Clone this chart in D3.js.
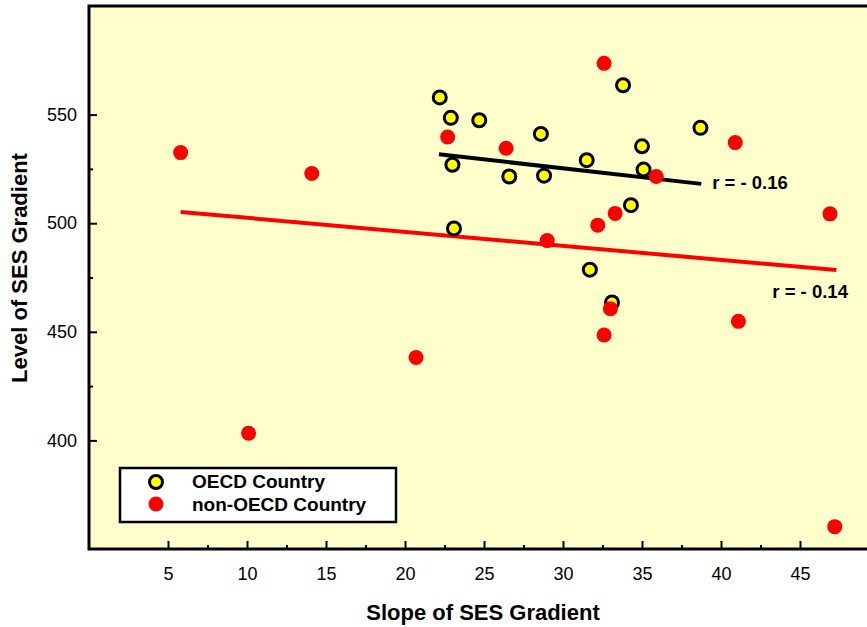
<!DOCTYPE html>
<meta charset="utf-8" />
<style>
  body {
    margin: 0px;
    padding: 0px;
    background: #fff;
  }
  svg {
    display: block;
    font-family: Arial, "Liberation Sans", sans-serif;
  }
  .axis text {
    font-size: 18px;
    fill: #000;
  }
  .axis line {
    stroke: #000;
  }
  .bold {
    font-weight: bold;
    fill: #000;
  }
</style>

<svg width="867" height="627"></svg>

<script src="https://cdn.jsdelivr.net/npm/d3@7"></script>
<script>
  // OECD countries: slope (x) and level (y) of SES gradient
  const oecdSlope = [22.2, 22.9, 24.7, 28.6, 23.0, 26.6, 28.8, 33.8, 38.7, 35.0, 31.5, 35.1, 23.1, 34.3, 31.7, 33.1];
  const oecdLevel = [557.9, 548.5, 547.4, 541.1, 526.9, 521.5, 521.9, 563.5, 543.9, 535.4, 529.0, 524.7, 497.6, 508.3, 478.6, 463.5];

  // non-OECD countries
  const nonSlope = [5.8, 14.1, 20.7, 10.1, 47.2, 32.6, 22.7, 26.4, 35.9, 40.9, 46.9, 33.3, 32.2, 29.0, 33.0, 32.6, 41.1];
  const nonLevel = [532.5, 522.9, 438.2, 403.3, 360.3, 573.6, 539.7, 534.5, 521.5, 537.1, 504.3, 504.5, 499.1, 492.0, 460.6, 448.5, 454.8];

  // fitted lines (end points) and their correlations
  const oecdFit = [[22.15, 531.7], [38.75, 518.1]];
  const nonFit = [[5.8, 505.2], [47.3, 478.4]];
  const oecdR = "r = - 0.16";
  const nonR = "r = - 0.14";

  const xMajor = [5, 10, 15, 20, 25, 30, 35, 40, 45];
  const xMinor = [7.5, 12.5, 17.5, 22.5, 27.5, 32.5, 37.5, 42.5];
  const yMajor = [400, 450, 500, 550];
  const yMinor = [425, 475, 525];

  const svg = d3.select("svg");

  const plotLeft = 89, plotTop = 6, plotBottom = 549;
  const x = d3.scaleLinear().domain([0, 50]).range([plotLeft, plotLeft + 790]);
  const y = d3.scaleLinear().domain([350, 600]).range([plotBottom, plotTop]);

  // plot background + frame (right side runs off the picture)
  svg.append("rect")
    .attr("x", plotLeft).attr("y", plotTop)
    .attr("width", 800).attr("height", plotBottom - plotTop)
    .attr("fill", "#ffffcc")
    .attr("stroke", "#000")
    .attr("stroke-width", 3);

  // axes, ticks pointing inward
  const gx = svg.append("g").attr("class", "axis")
    .attr("transform", "translate(0," + plotBottom + ")")
    .call(d3.axisBottom(x).tickValues(xMajor).tickSize(-8).tickPadding(18).tickFormat(d3.format("d")));
  const gxm = svg.append("g").attr("class", "axis")
    .attr("transform", "translate(0," + plotBottom + ")")
    .call(d3.axisBottom(x).tickValues(xMinor).tickSize(-4).tickFormat(""));

  const gy = svg.append("g").attr("class", "axis")
    .attr("transform", "translate(" + plotLeft + ",0)")
    .call(d3.axisLeft(y).tickValues(yMajor).tickSize(-8).tickPadding(12).tickFormat(d3.format("d")));
  const gym = svg.append("g").attr("class", "axis")
    .attr("transform", "translate(" + plotLeft + ",0)")
    .call(d3.axisLeft(y).tickValues(yMinor).tickSize(-4).tickFormat(""));

  [gx, gxm, gy, gym].forEach(function (g) {
    g.select(".domain").remove();
    g.selectAll("line").attr("stroke-width", 2);
  });
  svg.selectAll(".axis").attr("font-family", null).attr("font-size", null);

  // fit lines
  const line = d3.line().x(function (d) { return x(d[0]); }).y(function (d) { return y(d[1]); });

  svg.append("path").datum(nonFit)
    .attr("d", line).attr("fill", "none")
    .attr("stroke", "#ff0000").attr("stroke-width", 4);
  svg.append("path").datum(oecdFit)
    .attr("d", line).attr("fill", "none")
    .attr("stroke", "#000").attr("stroke-width", 4);

  // points
  const oecd = oecdSlope.map(function (s, i) { return [s, oecdLevel[i]]; });
  const non = nonSlope.map(function (s, i) { return [s, nonLevel[i]]; });

  svg.append("g").selectAll("circle").data(oecd).enter().append("circle")
    .attr("cx", function (d) { return x(d[0]); })
    .attr("cy", function (d) { return y(d[1]); })
    .attr("r", 6.5)
    .attr("fill", "#ffff00")
    .attr("stroke", "#000")
    .attr("stroke-width", 3);

  svg.append("g").selectAll("circle").data(non).enter().append("circle")
    .attr("cx", function (d) { return x(d[0]); })
    .attr("cy", function (d) { return y(d[1]); })
    .attr("r", 7.5)
    .attr("fill", "#ff0000");

  // r labels
  svg.append("text").attr("class", "bold")
    .attr("x", x(oecdFit[1][0]) + 11).attr("y", y(oecdFit[1][1]) + 5)
    .attr("font-size", 18.5).text(oecdR);
  svg.append("text").attr("class", "bold")
    .attr("x", x(nonFit[1][0]) - 64).attr("y", y(nonFit[1][1]) + 28)
    .attr("font-size", 18.5).text(nonR);

  // axis titles
  svg.append("text").attr("class", "bold")
    .attr("text-anchor", "middle")
    .attr("x", 483).attr("y", 620)
    .attr("font-size", 22).text("Slope of SES Gradient");
  svg.append("text").attr("class", "bold")
    .attr("text-anchor", "middle")
    .attr("transform", "translate(27,268) rotate(-90)")
    .attr("font-size", 22).text("Level of SES Gradient");

  // legend
  const legend = svg.append("g").attr("transform", "translate(120,468)");
  legend.append("rect")
    .attr("width", 276).attr("height", 54)
    .attr("fill", "#fff").attr("stroke", "#000").attr("stroke-width", 2.5);
  legend.append("circle").attr("cx", 36).attr("cy", 14).attr("r", 6.5)
    .attr("fill", "#ffff00").attr("stroke", "#000").attr("stroke-width", 3);
  legend.append("circle").attr("cx", 36).attr("cy", 36).attr("r", 7.5)
    .attr("fill", "#ff0000");
  legend.append("text").attr("class", "bold").attr("x", 72).attr("y", 20)
    .attr("font-size", 19).text("OECD Country");
  legend.append("text").attr("class", "bold").attr("x", 72).attr("y", 43)
    .attr("font-size", 19).text("non-OECD Country");
</script>
